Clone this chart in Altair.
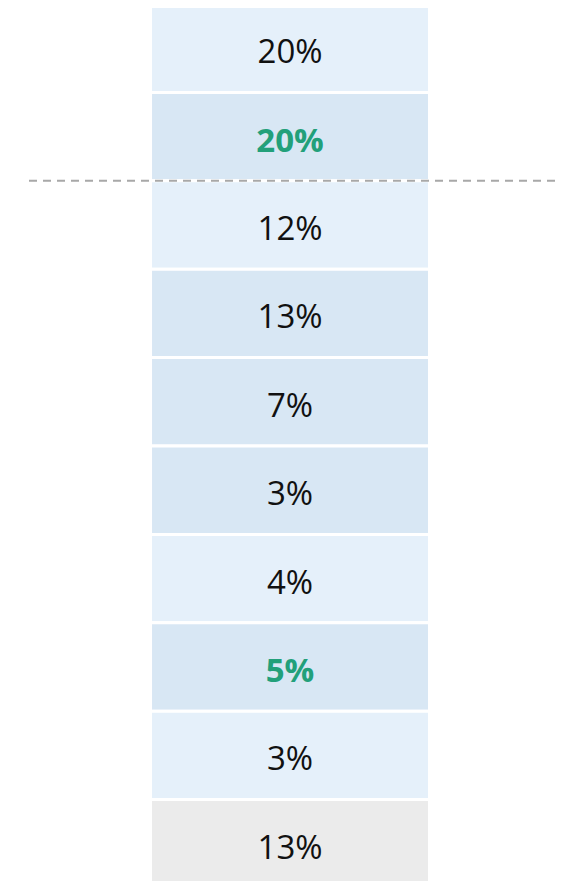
import altair as alt
import pandas as pd

# Data
values = [20, 20, 12, 13, 7, 3, 4, 5, 3, 13]
shades = ["light", "dark", "light", "dark", "dark", "dark", "light", "dark", "light", "gray"]
highlight = [False, True, False, False, False, False, False, True, False, False]
threshold_after_row = [2]

df = pd.DataFrame({
    "row": list(range(len(values))),
    "value": values,
    "shade": shades,
    "highlight": highlight,
})
df["row_end"] = df["row"] + 1
df["row_mid"] = df["row"] + 0.5
df["label"] = [f"{v}%" for v in values]
df["column"] = "share"

rule_df = pd.DataFrame({"pos": threshold_after_row})

y_scale = alt.Scale(domain=[0, 10], range=[-3.9, 879.9], nice=False, zero=False)
x_scale = alt.Scale(paddingInner=0, paddingOuter=0.4427, align=0.492)

base = alt.Chart(df)

cells = base.mark_rect(stroke="white", strokeWidth=3).encode(
    x=alt.X("column:N", scale=x_scale, axis=None),
    y=alt.Y("row:Q", scale=y_scale, axis=None),
    y2="row_end:Q",
    fill=alt.Fill(
        "shade:N",
        scale=alt.Scale(domain=["light", "dark", "gray"],
                        range=["#e5f0fa", "#d8e7f4", "#ebebeb"]),
        legend=None,
    ),
)

text_normal = base.transform_filter("!datum.highlight").mark_text(
    font="Open Sans", fontSize=33, color="#111111", baseline="middle", dy=5
).encode(
    x=alt.X("column:N", scale=x_scale, axis=None),
    y=alt.Y("row_mid:Q", scale=y_scale, axis=None),
    text="label:N",
)

text_bold = base.transform_filter("datum.highlight").mark_text(
    font="Open Sans", fontSize=33, fontWeight="bold", color="#22a07a",
    baseline="middle", dy=5
).encode(
    x=alt.X("column:N", scale=x_scale, axis=None),
    y=alt.Y("row_mid:Q", scale=y_scale, axis=None),
    text="label:N",
)

rule = alt.Chart(rule_df).mark_rule(
    color="#a8a8a8", strokeWidth=2, strokeDash=[8, 6]
).encode(
    y=alt.Y("pos:Q", scale=y_scale, axis=None),
)

chart = alt.layer(cells, rule, text_normal, text_bold).properties(
    width=526,
    height=873,
    padding={"left": 21, "right": 0, "top": 0, "bottom": 0},
    autosize=alt.AutoSizeParams(type="none"),
    background="white",
).configure_view(stroke=None)

chart.save("out.html", embed_options={"renderer": "svg", "actions": False})
